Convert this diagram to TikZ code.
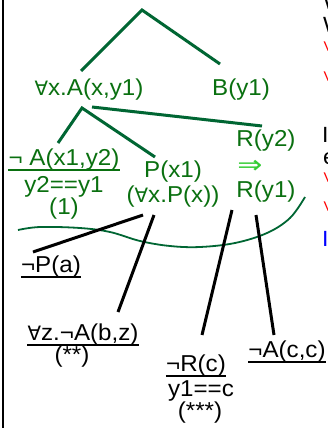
\documentclass[tikz,border=0pt]{standalone}
\usepackage{fontspec}
\setmainfont{Liberation Sans}[FakeStretch=1.05]
\newfontfamily\symf{DejaVu Sans}[Scale=0.86]
\newfontfamily\arrf{DejaVu Sans}[FakeStretch=1.2]
\definecolor{lgreen}{HTML}{006633}
\definecolor{tgreen}{HTML}{0A7010}
\definecolor{agreen}{HTML}{33CC33}
\newcommand\fa{{\symf ∀}}
\begin{document}
\begin{tikzpicture}[x=1pt,y=-1pt,
  txt/.style={inner sep=0pt,font=\fontsize{23}{27}\selectfont},
  gtxt/.style={txt,text=tgreen},
  edge/.style={lgreen,line width=3pt},
  bedge/.style={black,line width=3pt},
  ul/.style={line width=1.3pt},
  frag/.style={inner sep=0pt,anchor=west,font=\fontsize{22}{26}\selectfont},
  sfrag/.style={inner sep=0pt,anchor=west,font=\fontsize{14}{16}\selectfont,text=red}]
\useasboundingbox (0,0) rectangle (327,428);
\fill[white] (0,0) rectangle (327,428);
\draw[line width=2pt] (3,-1) -- (3,429);
% top tree
\coordinate (apex) at (142,10);
\coordinate (la) at (81,71);
\coordinate (lb) at (220,64);
\draw[edge] (la) -- (apex) -- (lb);
\node[gtxt] (A) at (89,90) {\fa x.A(x,y1)};
\node[gtxt] (B) at (241,90) {B(y1)};
\coordinate (Aj) at (82,108);
\coordinate (Ar) at (92,107);
\coordinate (nA) at (58,143);
\coordinate (nP) at (155,157);
\coordinate (nR) at (262,126);
\draw[edge] (nA) -- (Aj) -- (nP);
\draw[edge] (Ar) -- (nR);
% second level
\node[gtxt] (a1) at (64,160) {¬ A(x1,y2)};
\draw[ul,tgreen] ([yshift=-4pt]a1.base west) -- ([yshift=-4pt]a1.base east);
\node[gtxt] (a2) at (64,187) {y2==y1};
\node[gtxt] (a3) at (64,209) {(1)};
\node[gtxt] (p1) at (173,172) {P(x1)};
\node[gtxt] (p2) at (173,197) {(\fa x.P(x))};
\node[gtxt] (r1) at (266,141) {R(y2)};
\node[inner sep=0pt,text=agreen,font=\fontsize{25}{28}\arrf] (r2) at (250,167) {⇒};
\node[gtxt] (r3) at (266,192) {R(y1)};
% wave
\draw[lgreen,line width=1.8pt] plot[smooth,tension=0.6] coordinates
  {(18,230) (40,227) (80,228) (110,232) (140,241) (170,246) (200,247) (235,243) (267,233) (290,218) (305,197)};
% black lines and nodes
\node[txt] (np) at (51,267) {¬P(a)};
\draw[ul] ([yshift=-4pt]np.base west) -- ([yshift=-4pt]np.base east);
\node[txt] (nz) at (83,335) {\fa z.¬A(b,z)};
\draw[ul] ([yshift=-4pt]nz.base west) -- ([yshift=-4pt]nz.base east);
\node[txt] (nz2) at (72,357) {(**)};
\node[txt] (nr) at (196,366) {¬R(c)};
\draw[ul] ([yshift=-4pt]nr.base west) -- ([yshift=-4pt]nr.base east);
\node[txt] (nr2) at (201,391) {y1==c};
\node[txt] (nr3) at (200,413) {(***)};
\node[txt] (nac) at (287,352) {¬A(c,c)};
\draw[ul] ([yshift=-4pt]nac.base west) -- ([yshift=-4pt]nac.base east);
\coordinate (s1) at (143,215);
\coordinate (e1) at (33,252);
\coordinate (s2) at (154,215);
\coordinate (e2) at (118,312);
\coordinate (s3) at (232,210);
\coordinate (e3) at (202,335);
\coordinate (s4) at (256,215);
\coordinate (e4) at (274,335);
\draw[bedge] (s1) -- (e1);
\draw[bedge] (s2) -- (e2);
\draw[bedge] (s3) -- (e3);
\draw[bedge] (s4) -- (e4);
% clipped fragments of the next column
\node[frag] (f1) at (323,2) {W};
\node[frag] (f2) at (323,25) {W};
\node[sfrag] (f3) at (323.5,47) {V};
\node[sfrag] (f4) at (323.5,77) {V};
\node[frag] (f5) at (322,135) {I};
\node[frag] (f6) at (323,159) {e};
\node[sfrag] (f7) at (323.5,178) {V};
\node[sfrag] (f8) at (323.5,207) {V};
\node[frag,text=blue] (f9) at (322,239) {I};
\end{tikzpicture}
\end{document}
